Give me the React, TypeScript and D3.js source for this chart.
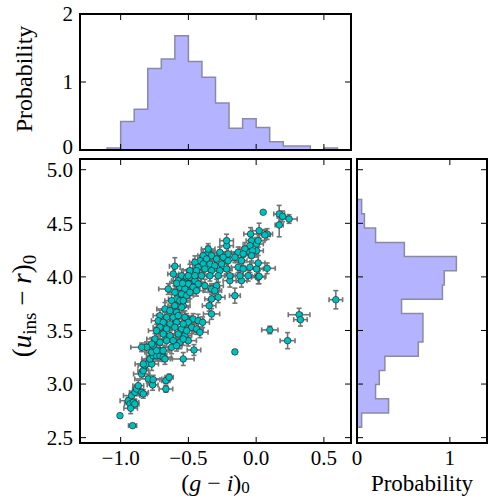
import React from 'react';
import * as d3 from 'd3';

const W = 489, H = 497;

// ---------- data ----------
const xTicks = [-1.0, -0.5, 0.0, 0.5];
const xTickLabels = ['−1.0', '−0.5', '0.0', '0.5'];
const yTicks = [2.5, 3.0, 3.5, 4.0, 4.5, 5.0];
const yTickLabels = ['2.5', '3.0', '3.5', '4.0', '4.5', '5.0'];
const topHistTicks = [0, 1, 2];
const topHistTickLabels = ['0', '1', '2'];
const rightHistTicks = [0, 1];
const rightHistTickLabels = ['0', '1'];

// top histogram of (g-i)0
const gxEdges = [-1.1, -1.0, -0.9, -0.8, -0.7, -0.6, -0.5, -0.4, -0.3, -0.2, -0.1, 0.0, 0.1, 0.2, 0.3, 0.4, 0.5, 0.6];
const gxProb = [0.03, 0.42, 0.60, 1.20, 1.34, 1.68, 1.30, 1.07, 0.69, 0.32, 0.46, 0.33, 0.12, 0.06, 0.06, 0.0, 0.03];

// right histogram of (u_ins - r)0
const urEdges = [2.596, 2.729, 2.862, 2.995, 3.127, 3.260, 3.393, 3.526, 3.658, 3.791, 3.924, 4.057, 4.190, 4.322, 4.455, 4.588, 4.721];
const urProb = [0.05, 0.34, 0.20, 0.24, 0.30, 0.66, 0.71, 0.71, 0.48, 0.92, 0.94, 1.07, 0.51, 0.20, 0.08, 0.05];

// scatter: [g-i, u_ins-r, err(g-i), err(u_ins-r)]
const stars: number[][] = [
  [-1.005, 2.705, 0.01, 0.01], [-0.912, 2.612, 0.03, 0.01], [-0.944, 2.845, 0.06, 0.03],
  [-0.931, 2.815, 0.04, 0.04], [-0.926, 2.774, 0.05, 0.05], [-0.907, 2.830, 0.04, 0.03],
  [-0.895, 2.815, 0.03, 0.04], [-0.919, 2.892, 0.06, 0.04], [-0.895, 2.923, 0.04, 0.03],
  [-0.882, 2.954, 0.03, 0.04], [-0.870, 2.985, 0.04, 0.05], [-0.845, 2.923, 0.05, 0.03],
  [-0.833, 2.908, 0.03, 0.04], [-0.796, 3.048, 0.10, 0.04], [-0.764, 2.992, 0.04, 0.05],
  [-0.760, 3.041, 0.05, 0.04], [-0.666, 3.032, 0.03, 0.03], [-0.642, 3.063, 0.03, 0.03],
  [-0.666, 2.954, 0.05, 0.03], [-0.845, 3.094, 0.06, 0.04], [-0.833, 3.125, 0.04, 0.05],
  [-0.821, 3.172, 0.05, 0.04], [-0.808, 3.187, 0.04, 0.05], [-0.833, 3.187, 0.06, 0.04],
  [-0.771, 3.187, 0.05, 0.06], [-0.784, 3.234, 0.06, 0.05], [-0.760, 3.265, 0.05, 0.06],
  [-0.735, 3.265, 0.04, 0.05], [-0.710, 3.265, 0.05, 0.05], [-0.686, 3.250, 0.06, 0.04],
  [-0.673, 3.234, 0.04, 0.05], [-0.771, 3.297, 0.05, 0.06], [-0.710, 3.312, 0.06, 0.05],
  [-0.538, 3.234, 0.08, 0.06], [-0.459, 3.318, 0.05, 0.05], [-0.157, 3.300, 0.0, 0.0],
  [-0.550, 4.011, 0.05, 0.06], [-0.513, 3.996, 0.04, 0.07], [-0.575, 3.965, 0.05, 0.05],
  [-0.538, 3.950, 0.06, 0.06], [-0.501, 3.934, 0.05, 0.06], [-0.563, 3.903, 0.04, 0.05],
  [-0.526, 3.887, 0.05, 0.06], [-0.649, 3.887, 0.07, 0.05], [-0.600, 3.856, 0.05, 0.06],
  [-0.550, 3.840, 0.04, 0.05], [-0.513, 3.825, 0.05, 0.06], [-0.587, 3.794, 0.06, 0.05],
  [-0.624, 3.778, 0.05, 0.06], [-0.563, 3.778, 0.04, 0.05], [-0.538, 3.731, 0.05, 0.06],
  [-0.600, 3.731, 0.05, 0.05], [-0.673, 3.701, 0.06, 0.06], [-0.636, 3.685, 0.05, 0.05],
  [-0.587, 3.670, 0.04, 0.06], [-0.710, 3.638, 0.05, 0.05], [-0.661, 3.623, 0.05, 0.06],
  [-0.612, 3.623, 0.04, 0.05], [-0.575, 3.638, 0.05, 0.06], [-0.513, 3.607, 0.06, 0.05],
  [-0.723, 3.591, 0.05, 0.06], [-0.686, 3.576, 0.05, 0.05], [-0.636, 3.561, 0.04, 0.06],
  [-0.587, 3.576, 0.05, 0.05], [-0.710, 3.530, 0.05, 0.06], [-0.661, 3.514, 0.04, 0.05],
  [-0.600, 3.530, 0.05, 0.06], [-0.550, 3.514, 0.05, 0.05], [-0.735, 3.498, 0.06, 0.06],
  [-0.686, 3.467, 0.05, 0.05], [-0.636, 3.451, 0.04, 0.06], [-0.575, 3.467, 0.05, 0.05],
  [-0.526, 3.451, 0.05, 0.06], [-0.747, 3.421, 0.06, 0.05], [-0.710, 3.390, 0.05, 0.06],
  [-0.760, 3.358, 0.05, 0.05], [-0.661, 3.405, 0.04, 0.06], [-0.612, 3.405, 0.05, 0.05],
  [-0.563, 3.390, 0.05, 0.06], [-0.501, 3.405, 0.06, 0.05], [-0.624, 3.343, 0.05, 0.06],
  [-0.587, 3.358, 0.04, 0.05], [-0.771, 3.374, 0.05, 0.06], [-0.808, 3.343, 0.05, 0.05],
  [-0.845, 3.343, 0.08, 0.04], [-0.735, 3.312, 0.05, 0.06], [-0.686, 3.312, 0.05, 0.05],
  [-0.489, 3.996, 0.05, 0.06], [-0.452, 3.965, 0.04, 0.05], [-0.428, 3.934, 0.05, 0.06],
  [-0.465, 3.903, 0.05, 0.05], [-0.489, 3.856, 0.04, 0.06], [-0.440, 3.871, 0.05, 0.05],
  [-0.378, 3.918, 0.05, 0.06], [-0.329, 3.887, 0.06, 0.05], [-0.292, 3.918, 0.05, 0.06],
  [-0.305, 3.871, 0.05, 0.05], [-0.194, 3.965, 0.05, 0.06], [-0.108, 3.965, 0.04, 0.06],
  [0.015, 3.996, 0.05, 0.06], [-0.157, 3.825, 0.04, 0.07], [-0.280, 3.810, 0.05, 0.05],
  [-0.329, 3.794, 0.05, 0.06], [-0.347, 3.731, 0.05, 0.05], [-0.538, 3.778, 0.05, 0.06],
  [-0.550, 3.716, 0.05, 0.05], [-0.329, 3.654, 0.06, 0.05], [-0.526, 3.623, 0.05, 0.06],
  [-0.465, 3.607, 0.05, 0.05], [-0.428, 3.591, 0.04, 0.06], [-0.395, 3.576, 0.05, 0.05],
  [-0.501, 3.576, 0.05, 0.06], [-0.538, 3.561, 0.04, 0.05], [-0.476, 3.530, 0.05, 0.06],
  [-0.440, 3.514, 0.05, 0.05], [-0.513, 3.498, 0.05, 0.06], [-0.415, 3.483, 0.06, 0.05],
  [-0.538, 3.421, 0.05, 0.06],
  [-0.041, 4.400, 0.05, 0.06], [0.022, 4.431, 0.05, 0.07], [-0.034, 4.338, 0.04, 0.05],
  [0.003, 4.307, 0.05, 0.06], [-0.046, 4.291, 0.05, 0.05], [-0.083, 4.260, 0.04, 0.06],
  [-0.218, 4.291, 0.05, 0.06], [-0.268, 4.229, 0.05, 0.05], [-0.207, 4.214, 0.04, 0.06],
  [-0.133, 4.229, 0.05, 0.05], [-0.096, 4.214, 0.05, 0.06], [-0.046, 4.229, 0.04, 0.05],
  [0.003, 4.244, 0.05, 0.06], [-0.157, 4.183, 0.05, 0.05], [-0.108, 4.151, 0.04, 0.06],
  [-0.354, 4.229, 0.05, 0.06], [-0.329, 4.198, 0.05, 0.05], [-0.391, 4.198, 0.04, 0.06],
  [-0.366, 4.167, 0.05, 0.05], [-0.292, 4.167, 0.05, 0.06], [-0.243, 4.183, 0.04, 0.05],
  [-0.207, 4.151, 0.05, 0.06], [-0.415, 4.151, 0.05, 0.05], [-0.452, 4.136, 0.04, 0.06],
  [-0.391, 4.120, 0.05, 0.05], [-0.341, 4.120, 0.05, 0.06], [-0.305, 4.104, 0.04, 0.05],
  [-0.255, 4.120, 0.05, 0.06], [-0.133, 4.090, 0.05, 0.05], [-0.096, 4.074, 0.04, 0.06],
  [-0.046, 4.090, 0.05, 0.05], [0.003, 4.074, 0.05, 0.06], [-0.428, 4.090, 0.04, 0.05],
  [-0.489, 4.058, 0.05, 0.06], [-0.440, 4.058, 0.05, 0.05], [-0.378, 4.074, 0.04, 0.06],
  [-0.329, 4.058, 0.05, 0.05], [-0.268, 4.058, 0.05, 0.06], [-0.218, 4.074, 0.04, 0.05],
  [-0.501, 4.011, 0.05, 0.06], [-0.452, 4.011, 0.05, 0.05], [-0.403, 4.011, 0.04, 0.06],
  [-0.341, 4.011, 0.05, 0.05], [-0.280, 4.011, 0.05, 0.06], [-0.194, 4.011, 0.04, 0.05],
  [-0.120, 4.011, 0.05, 0.06], [-0.059, 4.011, 0.05, 0.05], [-0.218, 4.338, 0.05, 0.06],
  [-0.354, 4.260, 0.05, 0.05], [-0.612, 4.027, 0.04, 0.07], [-0.600, 4.099, 0.04, 0.08],
  [-0.587, 3.940, 0.05, 0.06], [-0.543, 3.940, 0.05, 0.05],
  [0.052, 4.603, 0.0, 0.0], [0.170, 4.587, 0.04, 0.08], [0.195, 4.565, 0.04, 0.05],
  [0.243, 4.540, 0.06, 0.04], [0.170, 4.484, 0.03, 0.11], [0.081, 4.400, 0.04, 0.05],
  [0.064, 4.391, 0.04, 0.05], [0.015, 4.338, 0.05, 0.06], [-0.027, 4.244, 0.04, 0.06],
  [-0.034, 4.198, 0.05, 0.05], [0.015, 4.130, 0.05, 0.07], [0.081, 4.080, 0.06, 0.05],
  [0.022, 4.006, 0.05, 0.07], [0.588, 3.787, 0.05, 0.085], [0.317, 3.647, 0.08, 0.06],
  [0.327, 3.601, 0.05, 0.06], [0.101, 3.505, 0.06, 0.035], [0.232, 3.405, 0.055, 0.075],
];

// ---------- layout ----------
const main = { l: 80, r: 351, t: 159, b: 443 };
const topP = { l: 80, r: 351, t: 14, b: 150 };
const rightP = { l: 357, r: 487, t: 159, b: 443 };

const FONT = "'Liberation Serif', serif";
const FS = 21;
const TICK = 6;

export default function App() {
  const x = d3.scaleLinear().domain([-1.3, 0.7]).range([main.l, main.r]);
  const y = d3.scaleLinear().domain([2.45, 5.1]).range([main.b, main.t]);
  const yTop = d3.scaleLinear().domain([0, 2]).range([topP.b, topP.t]);
  const xRight = d3.scaleLinear().domain([0, 1.4]).range([rightP.l, rightP.r]);

  const topPath = d3.path();
  topPath.moveTo(x(gxEdges[0]), yTop(0));
  gxProb.forEach((v, i) => {
    topPath.lineTo(x(gxEdges[i]), yTop(v));
    topPath.lineTo(x(gxEdges[i + 1]), yTop(v));
  });
  topPath.lineTo(x(gxEdges[gxEdges.length - 1]), yTop(0));

  const rightPath = d3.path();
  rightPath.moveTo(xRight(0), y(urEdges[0]));
  urProb.forEach((v, i) => {
    rightPath.lineTo(xRight(v), y(urEdges[i]));
    rightPath.lineTo(xRight(v), y(urEdges[i + 1]));
  });
  rightPath.lineTo(xRight(0), y(urEdges[urEdges.length - 1]));

  const histFill = '#b3b3ff';
  const histStroke = '#8a8aa6';
  const errCol = '#747474';
  const cap = 2.5;

  const frame = (p: any) => (
    <rect x={p.l} y={p.t} width={p.r - p.l} height={p.b - p.t} fill="none" stroke="#000" strokeWidth={2} />
  );

  const xTickMarks = (p: any, sc: any, ticks: number[], key: string) =>
    ticks.map((t, i) => (
      <g key={key + i}>
        <line x1={sc(t)} x2={sc(t)} y1={p.b} y2={p.b - TICK} stroke="#000" strokeWidth={1} />
        <line x1={sc(t)} x2={sc(t)} y1={p.t} y2={p.t + TICK} stroke="#000" strokeWidth={1} />
      </g>
    ));
  const yTickMarks = (p: any, sc: any, ticks: number[], key: string) =>
    ticks.map((t, i) => (
      <g key={key + i}>
        <line x1={p.l} x2={p.l + TICK} y1={sc(t)} y2={sc(t)} stroke="#000" strokeWidth={1} />
        <line x1={p.r} x2={p.r - TICK} y1={sc(t)} y2={sc(t)} stroke="#000" strokeWidth={1} />
      </g>
    ));

  return (
    <svg width={W} height={H} style={{ position: 'absolute', left: 0, top: 0, background: '#fff' }}
      fontFamily={FONT}>
      <rect width={W} height={H} fill="#fff" />
      {/* top histogram */}
      <path d={topPath.toString()} fill={histFill} stroke={histStroke} strokeWidth={1.5} />
      {xTickMarks(topP, x, xTicks, 'tx')}
      {yTickMarks(topP, yTop, topHistTicks, 'ty')}
      {frame(topP)}
      {topHistTicks.map((t, i) => (
        <text key={'tyl' + i} x={73} y={yTop(t) - (t === 0 ? 3 : 0)} dy="0.35em" textAnchor="end" fontSize={FS}>{topHistTickLabels[i]}</text>
      ))}
      <text transform={`translate(32,79) rotate(-90)`} textAnchor="middle" fontSize={24}>Probability</text>

      {/* main scatter */}
      <g>
        {stars.map((s, i) => (
          <g key={'e' + i} stroke={errCol} strokeWidth={1.6}>
            {s[2] > 0 && <line x1={x(s[0] - s[2])} x2={x(s[0] + s[2])} y1={y(s[1])} y2={y(s[1])} />}
            {s[2] > 0 && <line x1={x(s[0] - s[2])} x2={x(s[0] - s[2])} y1={y(s[1]) - cap} y2={y(s[1]) + cap} />}
            {s[2] > 0 && <line x1={x(s[0] + s[2])} x2={x(s[0] + s[2])} y1={y(s[1]) - cap} y2={y(s[1]) + cap} />}
            {s[3] > 0 && <line x1={x(s[0])} x2={x(s[0])} y1={y(s[1] - s[3])} y2={y(s[1] + s[3])} />}
            {s[3] > 0 && <line x1={x(s[0]) - cap} x2={x(s[0]) + cap} y1={y(s[1] - s[3])} y2={y(s[1] - s[3])} />}
            {s[3] > 0 && <line x1={x(s[0]) - cap} x2={x(s[0]) + cap} y1={y(s[1] + s[3])} y2={y(s[1] + s[3])} />}
          </g>
        ))}
        {stars.map((s, i) => (
          <circle key={'p' + i} cx={x(s[0])} cy={y(s[1])} r={3.3} fill="#00bfbf" stroke="#1a1a1a" strokeWidth={0.6} />
        ))}
      </g>
      {xTickMarks(main, x, xTicks, 'mx')}
      {yTickMarks(main, y, yTicks, 'my')}
      {frame(main)}
      {yTicks.map((t, i) => (
        <text key={'myl' + i} x={73} y={y(t)} dy="0.35em" textAnchor="end" fontSize={FS}>{yTickLabels[i]}</text>
      ))}
      {xTicks.map((t, i) => (
        <text key={'mxl' + i} x={x(t)} y={465} textAnchor="middle" fontSize={FS}>{xTickLabels[i]}</text>
      ))}
      <text x={(main.l + main.r) / 2} y={491} textAnchor="middle" fontSize={24}>
        <tspan>(</tspan><tspan fontStyle="italic">g</tspan><tspan> − </tspan><tspan fontStyle="italic">i</tspan><tspan>)</tspan>
        <tspan fontSize={17} dy={2}>0</tspan>
      </text>
      <text transform={`translate(31,306) rotate(-90)`} textAnchor="middle" fontSize={27}>
        <tspan>(</tspan><tspan fontStyle="italic">u</tspan><tspan fontSize={19} dy={5}>ins</tspan>
        <tspan dy={-5}> − </tspan><tspan fontStyle="italic">r</tspan><tspan>)</tspan>
        <tspan fontSize={19} dy={5}>0</tspan>
      </text>

      {/* right histogram */}
      <path d={rightPath.toString()} fill={histFill} stroke={histStroke} strokeWidth={1.5} />
      {xTickMarks(rightP, xRight, rightHistTicks, 'rx')}
      {yTickMarks(rightP, y, yTicks, 'ry')}
      {frame(rightP)}
      {rightHistTicks.map((t, i) => (
        <text key={'rxl' + i} x={xRight(t)} y={465} textAnchor="middle" fontSize={FS}>{rightHistTickLabels[i]}</text>
      ))}
      <text x={422} y={491} textAnchor="middle" fontSize={23}>Probability</text>
    </svg>
  );
}
